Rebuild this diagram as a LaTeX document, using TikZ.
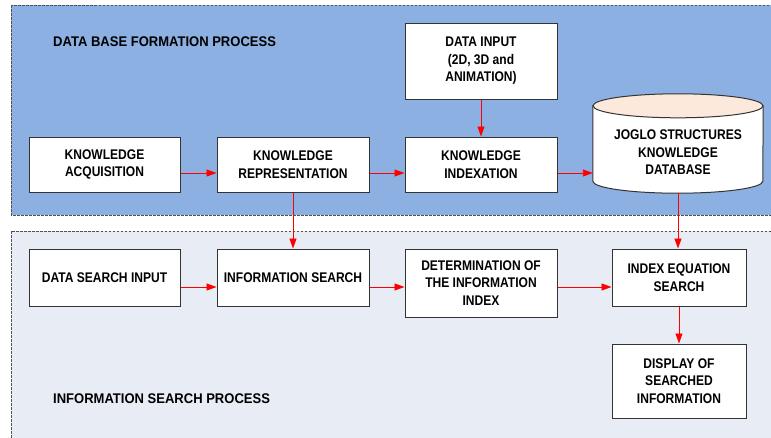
\documentclass[tikz,border=0pt]{standalone}
\usepackage{fontspec}
\setmainfont{Liberation Sans}
\newfontfamily\boxfont{Liberation Sans}[FakeStretch=0.86]
\newfontfamily\zonefont{Liberation Sans}[FakeStretch=0.93]
\usetikzlibrary{arrows.meta}

\definecolor{dbblue}{HTML}{8DB0E2}
\definecolor{srchbg}{HTML}{E8ECF5}
\definecolor{dbtop}{HTML}{FCE9DC}
\definecolor{edge}{HTML}{333333}

\begin{document}
\begin{tikzpicture}[x=1pt,y=-1pt,
  zone/.style={draw=edge!85, line width=0.8pt, dash pattern=on 2.5pt off 1.5pt},
  proc/.style={draw=edge, line width=1pt, fill=white,
    font=\boxfont\bfseries\fontsize{14}{17.5}\selectfont, align=center, inner sep=0pt},
  dblabel/.style={font=\boxfont\bfseries\fontsize{14}{17.5}\selectfont, align=center, inner sep=0pt},
  flow/.style={red, line width=0.9pt, -{Triangle[length=10pt,width=7pt]}},
  title/.style={font=\zonefont\bfseries\fontsize{14}{16}\selectfont, anchor=west, inner sep=0pt}]

\useasboundingbox (0,0) rectangle (771,437);
\fill[white] (0,0) rectangle (771,437);

% the two process zones
\path[zone, fill=dbblue] (11,5) rectangle (776,215);
\path[zone, fill=srchbg] (11,231) rectangle (776,442);

\node[title] (t1) at (53,42) {DATA BASE FORMATION PROCESS};
\node[title] (t2) at (53,399) {INFORMATION SEARCH PROCESS};

% data base formation
\node[proc, minimum width=151pt, minimum height=55pt] (ka) at (104.5,164.5) {KNOWLEDGE\\ACQUISITION};
\node[proc, minimum width=152pt, minimum height=55pt] (kr) at (293,164.5) {KNOWLEDGE\\REPRESENTATION};
\node[proc, minimum width=152pt, minimum height=55pt] (ki) at (481,164.5) {KNOWLEDGE\\INDEXATION};
\node[proc, minimum width=152pt, minimum height=76pt] (di) at (481,61) {DATA INPUT\\(2D, 3D and\\ANIMATION)};

% knowledge database cylinder
\node[minimum width=170pt, minimum height=99pt, inner sep=0pt] (db) at (678,143.5) {};
\filldraw[fill=white, draw=edge, line width=1pt]
  ([yshift=-12pt]db.north west) -- ([yshift=12pt]db.south west)
  arc[start angle=180, end angle=360, x radius=85pt, y radius=12pt]
  -- ([yshift=-12pt]db.north east) -- cycle;
\filldraw[fill=dbtop, draw=edge, line width=1pt]
  ([yshift=-12pt]db.north) ellipse [x radius=85pt, y radius=12pt];
\node[dblabel] (dbtext) at (678,152.5) {JOGLO STRUCTURES\\KNOWLEDGE\\DATABASE};

% information search
\node[proc, minimum width=151pt, minimum height=57pt] (dsi) at (104.5,277.5) {DATA SEARCH INPUT};
\node[proc, minimum width=152pt, minimum height=57pt] (is) at (293,277.5) {INFORMATION SEARCH};
\node[proc, minimum width=152pt, minimum height=68pt] (det) at (481,283) {DETERMINATION OF\\THE INFORMATION\\INDEX};
\node[proc, minimum width=134pt, minimum height=57pt] (ies) at (679,277.5) {INDEX EQUATION\\SEARCH};
\node[proc, minimum width=134pt, minimum height=74pt] (disp) at (679,381) {DISPLAY OF\\SEARCHED\\INFORMATION};

% connectors
\coordinate (r1) at ([yshift=-8.5pt]ka.east);
\draw[flow] (r1) -- (r1 -| kr.west);
\draw[flow] (r1 -| kr.east) -- (r1 -| ki.west);
\draw[flow] (r1 -| ki.east) -- (r1 -| db.west);
\draw[flow] (di.south) -- (ki.north);
\draw[flow] (kr.south) -- (is.north);
\draw[flow] (db.south) -- (db.south |- ies.north);

\coordinate (r2) at ([yshift=-9.5pt]dsi.east);
\draw[flow] (r2) -- (r2 -| is.west);
\draw[flow] (r2 -| is.east) -- (r2 -| det.west);
\draw[flow] (r2 -| det.east) -- (r2 -| ies.west);
\draw[flow] (ies.south) -- (disp.north);
\end{tikzpicture}
\end{document}
